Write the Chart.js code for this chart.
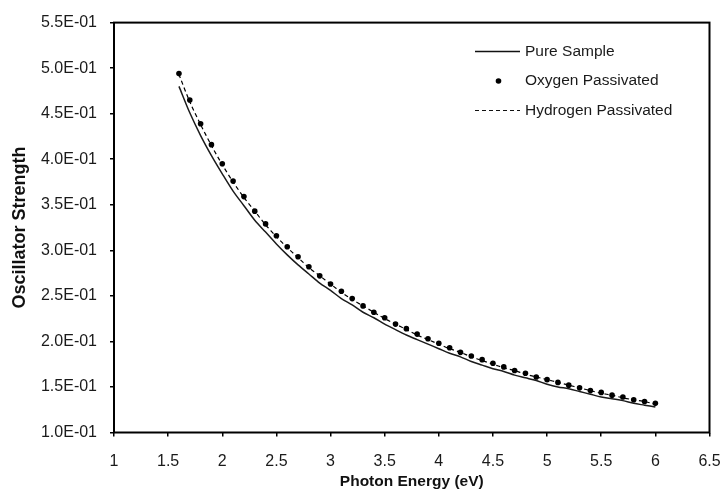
<!DOCTYPE html>
<html>
<head>
<meta charset="utf-8">
<script src="https://cdn.jsdelivr.net/npm/chart.js@4"></script>
<style>
  html, body { margin: 0; padding: 0; background: #fff; }
  #wrap { width: 722px; height: 493px; }
</style>
</head>
<body>
<div id="wrap"><canvas id="c" width="722" height="493"></canvas></div>
<script>
const seriesNames = ['Pure Sample', 'Oxygen Passivated', 'Hydrogen Passivated'];
const xTitle = 'Photon Energy (eV)';
const yTitle = 'Oscillator Strength';

const energies = [1.6, 1.7, 1.8, 1.9, 2.0, 2.1, 2.2, 2.3, 2.4, 2.5, 2.6, 2.7, 2.8, 2.9, 3.0,
  3.1, 3.2, 3.3, 3.4, 3.5, 3.6, 3.7, 3.8, 3.9, 4.0, 4.1, 4.2, 4.3, 4.4, 4.5,
  4.6, 4.7, 4.8, 4.9, 5.0, 5.1, 5.2, 5.3, 5.4, 5.5, 5.6, 5.7, 5.8, 5.9, 6.0];

const pureSample = [0.480, 0.451, 0.426, 0.404, 0.384, 0.365, 0.349, 0.333, 0.320, 0.307,
  0.295, 0.284, 0.274, 0.264, 0.256, 0.247, 0.240, 0.232, 0.226, 0.219,
  0.213, 0.207, 0.202, 0.197, 0.192, 0.187, 0.183, 0.178, 0.174, 0.170,
  0.167, 0.163, 0.160, 0.157, 0.153, 0.150, 0.148, 0.145, 0.142, 0.139,
  0.137, 0.135, 0.132, 0.130, 0.128];

const oxygenPassivated = [0.494, 0.465, 0.439, 0.416, 0.395, 0.376, 0.359, 0.343, 0.329, 0.316,
  0.304, 0.293, 0.282, 0.272, 0.263, 0.255, 0.247, 0.239, 0.232, 0.226,
  0.219, 0.214, 0.208, 0.203, 0.198, 0.193, 0.188, 0.184, 0.180, 0.176,
  0.172, 0.168, 0.165, 0.161, 0.158, 0.155, 0.152, 0.149, 0.146, 0.144,
  0.141, 0.139, 0.136, 0.134, 0.132];

const hydrogenPassivated = [0.493, 0.463, 0.438, 0.415, 0.394, 0.375, 0.358, 0.343, 0.328, 0.315,
  0.303, 0.292, 0.281, 0.272, 0.263, 0.254, 0.246, 0.239, 0.232, 0.225,
  0.219, 0.213, 0.207, 0.202, 0.197, 0.192, 0.188, 0.183, 0.179, 0.175,
  0.171, 0.168, 0.164, 0.161, 0.158, 0.155, 0.152, 0.149, 0.146, 0.143,
  0.141, 0.138, 0.136, 0.134, 0.131];

const xTicks = [1, 1.5, 2, 2.5, 3, 3.5, 4, 4.5, 5, 5.5, 6, 6.5];
const yTicks = [0.10, 0.15, 0.20, 0.25, 0.30, 0.35, 0.40, 0.45, 0.50, 0.55];

const FONT = '"Liberation Sans", Arial, Helvetica, sans-serif';

function pts(vals) { return energies.map((e, i) => ({ x: e, y: vals[i] })); }

function sci(v) {
  const s = Number(v).toExponential(1);
  const parts = s.split('e');
  const n = parseInt(parts[1], 10);
  return parts[0] + 'E' + (n < 0 ? '-' : '+') + String(Math.abs(n)).padStart(2, '0');
}

const framePlugin = {
  id: 'frame',
  beforeDatasetsDraw(chart) {
    const { ctx, chartArea: a } = chart;
    ctx.save();
    ctx.strokeStyle = '#000';
    ctx.lineWidth = 2;
    ctx.strokeRect(a.left, a.top, a.right - a.left, a.bottom - a.top);
    ctx.restore();
  }
};

const legendPlugin = {
  id: 'customLegend',
  afterDatasetsDraw(chart) {
    const ctx = chart.ctx;
    const ds = chart.data.datasets;
    const rows = [51.5, 81, 110.5];
    const x0 = 475, x1 = 520, tx = 525;
    ctx.save();
    ctx.font = '15.5px ' + FONT;
    ctx.fillStyle = '#1a1a1a';
    ctx.textBaseline = 'middle';
    ctx.textAlign = 'left';
    ctx.strokeStyle = '#111';
    ctx.lineWidth = 1.5;
    ctx.beginPath(); ctx.moveTo(x0, rows[0]); ctx.lineTo(x1, rows[0]); ctx.stroke();
    ctx.fillText(ds[0].label, tx, rows[0]);
    ctx.beginPath(); ctx.arc((x0 + x1) / 2 + 1, rows[1], 2.8, 0, Math.PI * 2); ctx.fillStyle = '#000'; ctx.fill();
    ctx.fillStyle = '#1a1a1a';
    ctx.fillText(ds[1].label, tx, rows[1]);
    ctx.setLineDash([4, 3]);
    ctx.lineWidth = 1.2;
    ctx.beginPath(); ctx.moveTo(x0, rows[2]); ctx.lineTo(x1, rows[2]); ctx.stroke();
    ctx.setLineDash([]);
    ctx.fillText(ds[2].label, tx, rows[2]);
    ctx.restore();
  }
};

new Chart(document.getElementById('c'), {
  type: 'scatter',
  data: {
    datasets: [
      {
        label: seriesNames[0],
        data: pts(pureSample),
        showLine: true,
        borderColor: '#1c1c1c',
        borderWidth: 1.5,
        pointRadius: 0,
        tension: 0.3,
        order: 3
      },
      {
        label: seriesNames[1],
        data: pts(oxygenPassivated),
        showLine: false,
        pointRadius: 2.8,
        pointBackgroundColor: '#000',
        pointBorderColor: '#000',
        pointBorderWidth: 0,
        order: 1
      },
      {
        label: seriesNames[2],
        data: pts(hydrogenPassivated),
        showLine: true,
        borderColor: '#000',
        borderWidth: 1.2,
        borderDash: [4, 3],
        pointRadius: 0,
        tension: 0.3,
        order: 2
      }
    ]
  },
  options: {
    responsive: false,
    animation: false,
    devicePixelRatio: 1,
    layout: { padding: { top: 20, right: 0, left: 0, bottom: 0 } },
    plugins: {
      legend: { display: false },
      tooltip: { enabled: false }
    },
    scales: {
      x: {
        type: 'linear',
        min: xTicks[0],
        max: xTicks[xTicks.length - 1],
        afterBuildTicks(scale) { scale.ticks = xTicks.map(v => ({ value: v })); },
        afterFit(scale) { scale.height = 60.5; scale.paddingRight = 12.5; scale.paddingLeft = 0; },
        ticks: {
          font: { family: FONT, size: 16 },
          color: '#1a1a1a',
          padding: 15,
          maxRotation: 0,
          autoSkip: false,
          callback: v => String(v)
        },
        grid: { display: true, drawOnChartArea: false, drawTicks: true, tickLength: 4, color: '#000', lineWidth: 1.5 },
        border: { display: false },
        title: {
          display: true,
          text: xTitle,
          font: { family: FONT, size: 15.5, weight: 'bold' },
          color: '#111',
          padding: { top: 0, bottom: 2 }
        }
      },
      y: {
        type: 'linear',
        min: yTicks[0],
        max: yTicks[yTicks.length - 1],
        afterBuildTicks(scale) { scale.ticks = yTicks.map(v => ({ value: v })); },
        afterFit(scale) { scale.width = 114; },
        ticks: {
          font: { family: FONT, size: 16 },
          color: '#1a1a1a',
          padding: 13,
          autoSkip: false,
          callback: v => sci(v)
        },
        grid: { display: true, drawOnChartArea: false, drawTicks: true, tickLength: 4, color: '#000', lineWidth: 1.5 },
        border: { display: false },
        title: {
          display: true,
          text: yTitle,
          font: { family: FONT, size: 18, weight: 'bold' },
          color: '#111',
          padding: { top: 9, bottom: 0 }
        }
      }
    }
  },
  plugins: [framePlugin, legendPlugin]
});
</script>
</body>
</html>
